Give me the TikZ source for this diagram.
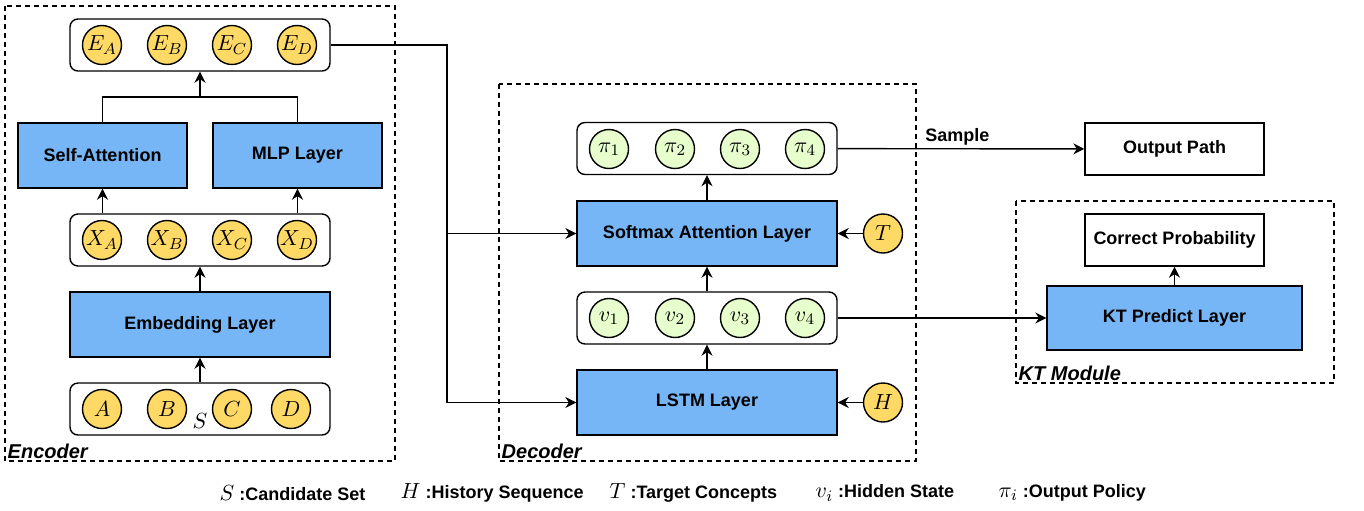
\documentclass[tikz,border=0pt]{standalone}
\usepackage{fontspec}
\setmainfont{Liberation Sans}
\usetikzlibrary{arrows.meta,positioning}
\definecolor{layerblue}{RGB}{118,182,246}
\definecolor{conceptyellow}{RGB}{255,217,102}
\definecolor{stategreen}{RGB}{230,255,204}
\newcommand{\legendsym}[1]{{\fontsize{11}{13}\selectfont$#1$}}

\begin{document}
\begin{tikzpicture}[x=0.5pt,y=-0.5pt,->,>={Stealth[length=5.5pt,width=5.5pt,inset=1.8pt]},line width=0.7pt,
    layer/.style={draw,fill=layerblue,inner sep=0pt,minimum height=32.5pt,font=\fontsize{9}{11}\selectfont\bfseries},
    plain box/.style={draw,fill=white,inner sep=0pt,minimum width=89.5pt,minimum height=26pt,font=\fontsize{9}{11}\selectfont\bfseries},
    row/.style={draw,rounded corners=4pt,minimum width=130pt,minimum height=26pt,inner sep=0pt},
    concept/.style={circle,draw,fill=conceptyellow,minimum size=19.5pt,inner sep=0pt,font=\fontsize{11}{13}\selectfont},
    state/.style={circle,draw,fill=stategreen,minimum size=19.5pt,inner sep=0pt,font=\fontsize{11}{13}\selectfont},
    group/.style={draw,dashed,line width=0.6pt,dash pattern=on 2.5pt off 2pt},
    group label/.style={anchor=south west,inner sep=1pt,font=\fontsize{10}{12}\selectfont\bfseries\itshape},
    legend/.style={anchor=west,inner sep=0pt,font=\fontsize{9}{11}\selectfont\bfseries}]
    \useasboundingbox (0,0) rectangle (1364,510);

    % encoder
    \draw[group,-] (5,6) rectangle (395,461);
    \node[group label] (enc) at (5,461) {Encoder};
    \node[row] (Erow) at (200,45) {};
    \node[concept] (EA) at (102,45) {$E_A$};
    \node[concept] (EB) at (167,45) {$E_B$};
    \node[concept] (EC) at (232,45) {$E_C$};
    \node[concept] (ED) at (297,45) {$E_D$};
    \node[layer,minimum width=84.5pt] (SA) at (102.5,155.5) {Self-Attention};
    \node[layer,minimum width=84.5pt] (MLP) at (297.5,155.5) {MLP Layer};
    \node[row] (Xrow) at (200,240) {};
    \node[concept] (XA) at (102,240) {$X_A$};
    \node[concept] (XB) at (167,240) {$X_B$};
    \node[concept] (XC) at (232,240) {$X_C$};
    \node[concept] (XD) at (297,240) {$X_D$};
    \node[layer,minimum width=130pt] (Emb) at (200,324.5) {Embedding Layer};
    \node[row] (Srow) at (200,409) {};
    \node[concept] (A) at (102,409) {$A$};
    \node[concept] (B) at (167,409) {$B$};
    \node[concept] (C) at (232,409) {$C$};
    \node[concept] (D) at (291,409) {$D$};
    \node[inner sep=0pt,font=\fontsize{11}{13}\selectfont] (Sname) at (200,421) {$S$};

    % decoder
    \draw[group,-] (499,84) rectangle (916,461);
    \node[group label] (dec) at (499,461) {Decoder};
    \node[row] (Prow) at (707,148.5) {};
    \node[state] (P1) at (609,149) {$\pi_1$};
    \node[state] (P2) at (675,149) {$\pi_2$};
    \node[state] (P3) at (740,149) {$\pi_3$};
    \node[state] (P4) at (805,149) {$\pi_4$};
    \node[layer,minimum width=130pt] (Soft) at (707,233.5) {Softmax Attention Layer};
    \node[row] (Vrow) at (707,318) {};
    \node[state] (V1) at (609,318) {$v_1$};
    \node[state] (V2) at (675,318) {$v_2$};
    \node[state] (V3) at (740,318) {$v_3$};
    \node[state] (V4) at (805,318) {$v_4$};
    \node[layer,minimum width=130pt] (LSTM) at (707,402.5) {LSTM Layer};
    \node[concept] (T) at (883,233.5) {$T$};
    \node[concept] (H) at (883,402.5) {$H$};

    % output and KT module
    \node[plain box] (Out) at (1174.5,149) {Output Path};
    \draw[group,-] (1016,201) rectangle (1334,383);
    \node[group label] (kt) at (1016,383) {KT Module};
    \node[plain box] (CP) at (1174.5,240) {Correct Probability};
    \node[layer,minimum width=127.5pt,minimum height=32pt] (KT) at (1174.5,318) {KT Predict Layer};

    \coordinate (merge) at (200,97);
    \coordinate (turn) at (447,45);

    \path
        (Srow) edge (Emb)
        (Emb) edge (Xrow)
        (SA.south |- Xrow.north) edge (SA.south)
        (MLP.south |- Xrow.north) edge (MLP.south)
        (merge) edge (Erow)
        (LSTM) edge (Vrow)
        (Vrow) edge (Soft)
        (Soft) edge (Prow)
        (T) edge (Soft)
        (H) edge (LSTM)
        (Prow) edge node[above,pos=0.485,inner sep=1.5pt,font=\fontsize{9}{11}\selectfont\bfseries] (sample) {Sample} (Out)
        (Vrow) edge (KT)
        (KT) edge (CP)
        ;
    \draw[-] (SA.north) |- (merge) -| (MLP.north);
    \draw (Erow.east) -- (turn) |- (LSTM.west);
    \draw (turn |- Soft.west) -- (Soft.west);

    % legend
    \node[legend] (l1) at (219,493) {\legendsym{S} :Candidate Set};
    \node[legend] (l2) at (400,493) {\legendsym{H} :History Sequence};
    \node[legend] (l3) at (609,493) {\legendsym{T} :Target Concepts};
    \node[legend] (l4) at (815,493) {\legendsym{v_i} :Hidden State};
    \node[legend] (l5) at (998,493) {\legendsym{\pi_i} :Output Policy};
\end{tikzpicture}
\end{document}
